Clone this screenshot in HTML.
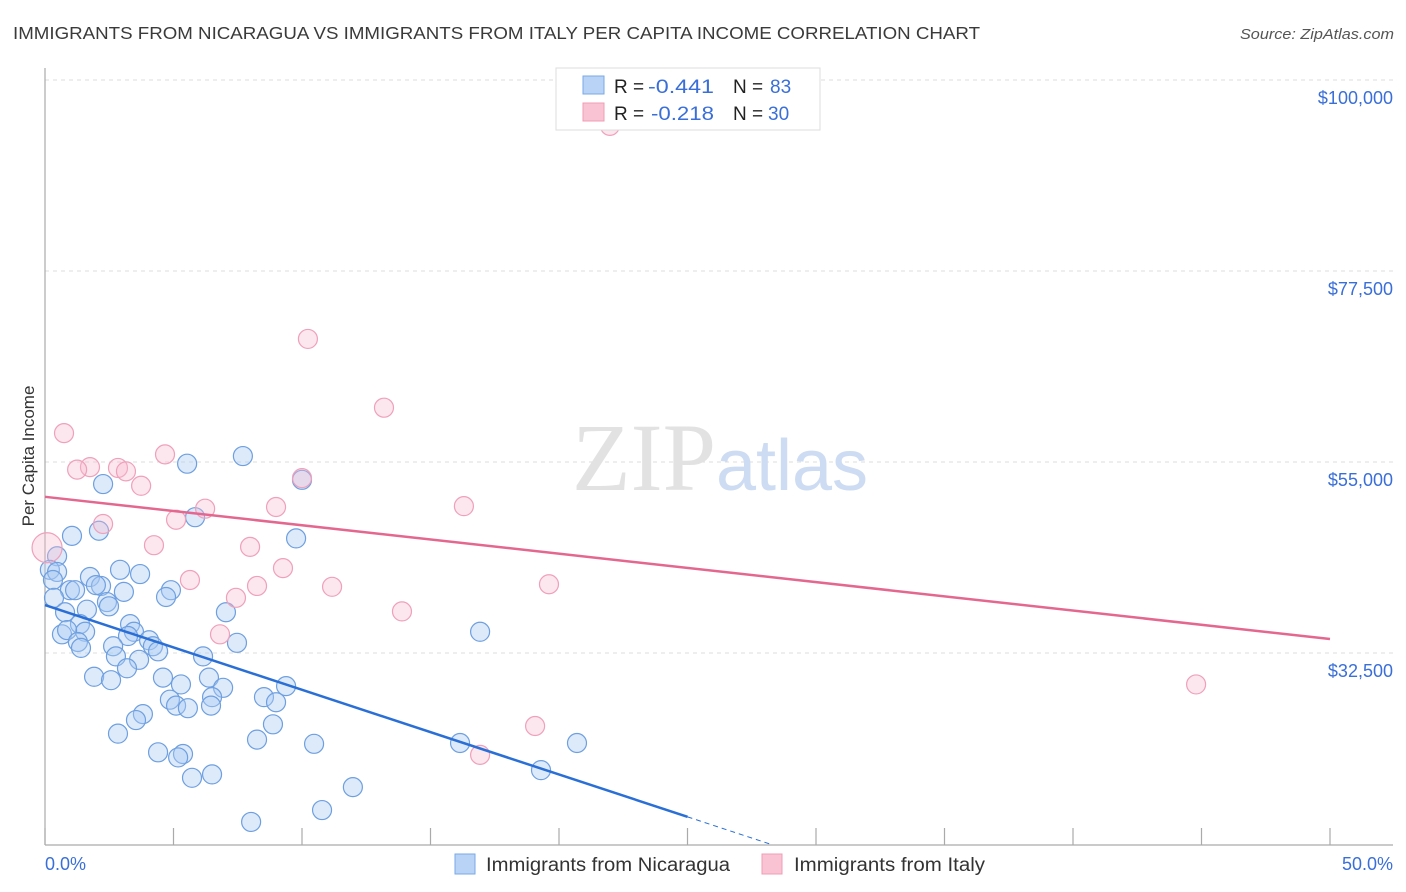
<!DOCTYPE html>
<html><head><meta charset="utf-8"><style>
body{margin:0;background:#fff;font-family:"Liberation Sans",sans-serif;}
svg{display:block}
</style></head><body>
<svg id="chart" width="1406" height="892" xmlns="http://www.w3.org/2000/svg" font-family="Liberation Sans, sans-serif">
<text x="13" y="39" font-size="17.5" fill="#3a3a3a" textLength="967" lengthAdjust="spacingAndGlyphs">IMMIGRANTS FROM NICARAGUA VS IMMIGRANTS FROM ITALY PER CAPITA INCOME CORRELATION CHART</text>
<text x="1240" y="39" font-size="15" fill="#555" font-style="italic" textLength="154" lengthAdjust="spacingAndGlyphs">Source: ZipAtlas.com</text>
<g id="grid"></g>
<text x="720" y="490" font-size="96" text-anchor="middle" fill="#e2e2e2" font-family="Liberation Serif, serif">ZIP<tspan fill="#cddcf2" font-family="Liberation Sans, sans-serif" font-size="72">atlas</tspan></text>
<line x1="45" y1="68" x2="45" y2="845" stroke="#aaa" stroke-width="1.2"/>
<line x1="45" y1="845" x2="1393" y2="845" stroke="#aaa" stroke-width="1.2"/>
<text transform="translate(34,456) rotate(-90)" font-size="17" fill="#333" text-anchor="middle">Per Capita Income</text>
<g id="points"></g>
<g id="lines"></g>
<text x="45" y="870" font-size="18" fill="#3a6fd8">0.0%</text>
<text x="1393" y="870" font-size="18" fill="#3a6fd8" text-anchor="end">50.0%</text>
<g>
<rect x="556" y="68" width="264" height="62" fill="#fff" stroke="#ddd"/>
<rect x="583" y="76" width="21" height="18" fill="#b8d3f5" stroke="#7aa8e8"/>
<rect x="583" y="103" width="21" height="18" fill="#f9c3d3" stroke="#ef9cb6"/>
<text x="614" y="93" font-size="19" fill="#222">R =<tspan fill="#3a6fd8" x="648" textLength="66" lengthAdjust="spacingAndGlyphs">-0.441</tspan><tspan x="733">N =</tspan><tspan fill="#3a6fd8" x="770">83</tspan></text>
<text x="614" y="120" font-size="19" fill="#222">R =<tspan fill="#3a6fd8" x="651" textLength="63" lengthAdjust="spacingAndGlyphs">-0.218</tspan><tspan x="733">N =</tspan><tspan fill="#3a6fd8" x="768">30</tspan></text>
</g>
<g>
<rect x="455" y="854" width="20" height="20" fill="#b8d3f5" stroke="#7aa8e8"/>
<text x="486" y="871" font-size="19" fill="#333" textLength="244" lengthAdjust="spacingAndGlyphs">Immigrants from Nicaragua</text>
</g>
<g>
<rect x="762" y="854" width="20" height="20" fill="#f9c3d3" stroke="#ef9cb6"/>
<text x="794" y="871" font-size="19" fill="#333" textLength="191" lengthAdjust="spacingAndGlyphs">Immigrants from Italy</text>
</g>
</svg>
<script>
const yTicks=[100000,77500,55000,32500];
const yTickLabels=["$100,000","$77,500","$55,000","$32,500"];
const xTicks=[0,5,10,15,20,25,30,35,40,45,50];
const blueX=[2.26,5.53,7.70,10.0,5.84,2.10,1.05,9.77,0.47,0.19,0.47,0.31,1.75,2.92,3.70,0.97,1.17,2.18,1.98,3.07,4.90,4.71,0.35,0.78,1.63,2.41,2.49,7.04,1.36,1.56,0.66,0.86,3.31,3.46,3.23,4.05,4.20,4.40,2.65,2.76,6.15,1.28,1.40,3.66,3.19,7.47,16.93,1.91,2.57,4.59,5.29,6.38,6.93,6.50,8.52,8.99,9.38,4.86,5.10,5.56,6.46,3.81,3.54,8.87,2.84,8.25,10.47,16.15,20.70,4.40,5.37,5.18,6.50,5.72,19.30,11.98,10.78,8.02];
const blueY=[52400,54800,55700,52900,48500,46900,46300,46000,43900,42300,42050,41100,41450,42300,41800,39900,39900,40400,40500,39700,39900,39100,39000,37300,37600,38500,38000,37300,35900,35000,34700,35200,35900,35000,34500,34000,33300,32700,33300,32100,32100,33800,33100,31700,30700,33700,35000,29700,29300,29600,28800,29600,28400,27300,27300,26700,28600,27000,26300,26000,26300,25300,24600,24100,23000,22300,21800,21900,21900,20800,20600,20200,18200,17800,18700,16700,14000,12600];
const pinkX=[21.98,10.23,13.19,0.74,4.67,1.75,1.25,2.84,3.15,3.74,10.0,6.23,8.99,16.30,2.26,5.10,4.24,7.98,0.08,5.64,8.25,9.26,11.17,19.61,7.43,13.89,6.81,44.79,19.07,16.93];
const pinkY=[94600,69500,61400,58400,55900,54400,54100,54300,53900,52200,53100,49500,49700,49800,47700,48200,45200,45000,44900,41100,40400,42500,40300,40600,39000,37400,34700,28800,23900,20500];
const blueTrend=[38150,13200]; // values at x=0 and x=25
const blueTrendEnd=28.3;
const pinkTrend=[50900,34150]; // values at x=0 and x=50
const NS="http://www.w3.org/2000/svg";
const xs=v=>45+v*25.7;
const ys=v=>80+(100000-v)/117.8;
function mk(tag,attrs,parent){const e=document.createElementNS(NS,tag);for(const k in attrs)e.setAttribute(k,attrs[k]);parent.appendChild(e);return e;}
const grid=document.getElementById('grid');
yTicks.forEach((t,i)=>{
  const l=mk('line',{x1:45,x2:1393,y1:ys(t),y2:ys(t),stroke:'#ddd','stroke-dasharray':'4,4'},grid);
  
  
  const tx=mk('text',{x:1393,y:ys(t)+24,'font-size':18,fill:'#3a6fd8','text-anchor':'end'},grid);
  tx.textContent=yTickLabels[i];
  
  
});
xTicks.forEach(t=>{
  const l=mk('line',{x1:xs(t),x2:xs(t),y1:828,y2:845,stroke:'#aaa','stroke-width':1.2},grid);
  
  
});
const pts=document.getElementById('points');
blueX.forEach((x,i)=>{
  const c=mk('circle',{cx:xs(x),cy:ys(blueY[i]),r:9.5,fill:'rgba(170,202,242,0.4)',stroke:'#6e9fe0','stroke-width':1.2},pts);
  
  
});
pinkX.forEach((x,i)=>{
  const c=mk('circle',{cx:xs(x),cy:ys(pinkY[i]),r:i===18?15:9.5,fill:'rgba(246,186,205,0.35)',stroke:'#efa0ba','stroke-width':1.2},pts);
  
  
});
const lines=document.getElementById('lines');
const slope=(blueTrend[1]-blueTrend[0])/25;
const b1=mk('line',{x1:xs(0),y1:ys(blueTrend[0]),x2:xs(25),y2:ys(blueTrend[1]),stroke:'#2a6fd6','stroke-width':2.5},lines);


const b2=mk('line',{x1:xs(25),y1:ys(blueTrend[1]),x2:xs(blueTrendEnd),y2:ys(blueTrend[0]+slope*blueTrendEnd),stroke:'#2a6fd6','stroke-width':1,'stroke-dasharray':'5,4'},lines);


const p1=mk('line',{x1:xs(0),y1:ys(pinkTrend[0]),x2:xs(50),y2:ys(pinkTrend[1]),stroke:'#e46790','stroke-width':2.5},lines);


</script>
</body></html>
